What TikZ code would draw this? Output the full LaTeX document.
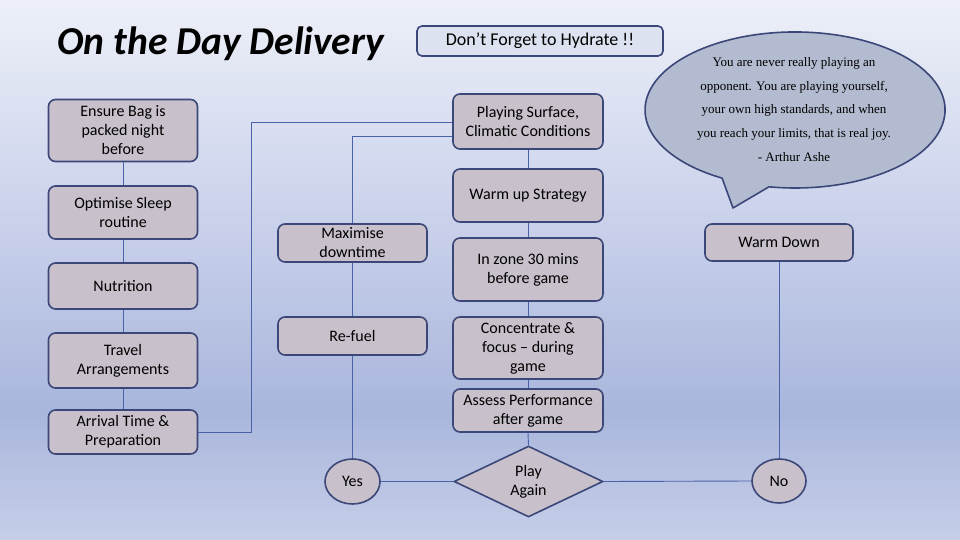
\documentclass[tikz,border=0pt]{standalone}
\usepackage{fontspec}
\setmainfont{Carlito}
\newfontfamily\quotefont{Liberation Serif}
\usetikzlibrary{shapes.geometric}
\definecolor{bgtop}{HTML}{EDF0F8}
\definecolor{bgupper}{HTML}{CCD3EC}
\definecolor{bgdark}{HTML}{A9B6DC}
\definecolor{bgbot}{HTML}{C6CEE8}
\definecolor{boxfill}{HTML}{C8C0CA}
\definecolor{edge}{HTML}{3B4778}
\definecolor{linecol}{HTML}{4A62A8}
\definecolor{hydfill}{HTML}{DDE2F0}
\definecolor{bubfill}{HTML}{B2BBCF}
\pgfdeclareverticalshading{bgshade}{100bp}{color(0bp)=(bgbot); color(25bp)=(bgbot); color(37bp)=(bgdark); color(56bp)=(bgupper); color(75bp)=(bgtop); color(100bp)=(bgtop)}
\tikzset{
  boxtext/.style={font=\fontsize{16}{19}\selectfont, align=center, text=black},
  stepbox/.style={boxtext, draw=edge, line width=1.6pt, fill=boxfill, rounded corners=7pt, inner sep=0pt},
  roundnode/.style={boxtext, draw=edge, line width=1.6pt, fill=boxfill, ellipse, inner sep=0pt},
  decision/.style={boxtext, draw=edge, line width=1.6pt, fill=boxfill, diamond, shape aspect=2.1, inner sep=0pt},
  conn/.style={draw=linecol, line width=0.9pt},
}
\begin{document}
\begin{tikzpicture}[x=1pt,y=-1pt]
\useasboundingbox (0,0) rectangle (960,540);
\shade[shading=bgshade] (0,0) rectangle (960,540);

% title
\node[font=\fontsize{39.5}{46}\selectfont\bfseries\itshape, anchor=west] (title) at (54,44) {On the Day Delivery};

% hydrate
\node[font=\fontsize{18}{21}\selectfont, align=center, draw=edge, line width=1.6pt, fill=hydfill, rounded corners=5pt, minimum width=246pt, minimum height=30pt, inner sep=0pt] (hyd) at (540,41) {Don’t Forget to Hydrate !!};

% left column
\node[stepbox, minimum width=149pt, minimum height=62pt] (bag) at (123,130.5) {Ensure Bag is\\packed night\\before};
\node[stepbox, minimum width=149pt, minimum height=53pt] (sleep) at (123,212.5) {Optimise Sleep\\routine};
\node[stepbox, minimum width=149pt, minimum height=46pt] (nut) at (123,286) {Nutrition};
\node[stepbox, minimum width=149pt, minimum height=55pt] (travel) at (123,360.5) {Travel\\Arrangements};
\node[stepbox, minimum width=149pt, minimum height=44pt] (arr) at (123,432) {Arrival Time \&\\Preparation};

% middle column
\node[stepbox, minimum width=149pt, minimum height=38pt] (maxd) at (352.5,243) {Maximise\\downtime};
\node[stepbox, minimum width=149pt, minimum height=38pt] (refuel) at (352.5,336) {Re-fuel};
\node[roundnode, minimum width=55pt, minimum height=45pt] (yes) at (352.5,481.5) {Yes};

% right-middle column
\node[stepbox, minimum width=150pt, minimum height=55pt] (surf) at (528,121.5) {Playing Surface,\\Climatic Conditions};
\node[stepbox, minimum width=150pt, minimum height=53pt] (warm) at (528,195.5) {Warm up Strategy};
\node[stepbox, minimum width=150pt, minimum height=63pt] (zone) at (528,269.5) {In zone 30 mins\\before game};
\node[stepbox, minimum width=150pt, minimum height=62pt] (conc) at (528,348) {Concentrate \&\\focus – during\\game};
\node[stepbox, minimum width=150pt, minimum height=43pt] (assess) at (528,410.5) {Assess Performance\\after game};
\node[decision, minimum width=149pt, minimum height=71pt] (play) at (528.5,481.5) {Play\\Again};

% right column
\node[stepbox, minimum width=148pt, minimum height=37pt] (wdown) at (779,242.5) {Warm Down};
\node[roundnode, minimum width=54pt, minimum height=44pt] (no) at (779,481) {No};

% speech bubble
\draw[draw=edge, line width=1.6pt, fill=bubfill, line join=round]
  (722.1,178.2) -- (733,208) -- (769,186.8)
  arc[start angle=100, end angle=-240.9, x radius=150, y radius=78] -- cycle;
\node[font=\quotefont\fontsize{13}{23.8}\selectfont, align=center] (quote) at (794,109.5)
  {You are never really playing an\\opponent. You are playing yourself,\\your own high standards, and when\\you reach your limits, that is real joy.\\- Arthur Ashe};

% connectors
\coordinate (j1) at (251,122);
\coordinate (j2) at (352.5,136);
\draw[conn] (bag.south) -- (sleep.north);
\draw[conn] (sleep.south) -- (nut.north);
\draw[conn] (nut.south) -- (travel.north);
\draw[conn] (travel.south) -- (arr.north);
\draw[conn] (arr.east) -| (j1) -- (j1 -| surf.west);
\draw[conn] (maxd.north) -- (j2) -- (j2 -| surf.west);
\draw[conn] (maxd.south) -- (refuel.north);
\draw[conn] (refuel.south) -- (yes.north);
\draw[conn] (yes.east) -- (play.west);
\draw[conn] (surf.south) -- (warm.north);
\draw[conn] (warm.south) -- (zone.north);
\draw[conn] (zone.south) -- (conc.north);
\draw[conn] (conc.south) -- (assess.north);
\draw[conn] (assess.south) -- (play.north);
\draw[conn] (play.east) -- (no.west);
\draw[conn] (no.north) -- (wdown.south);
\end{tikzpicture}
\end{document}
